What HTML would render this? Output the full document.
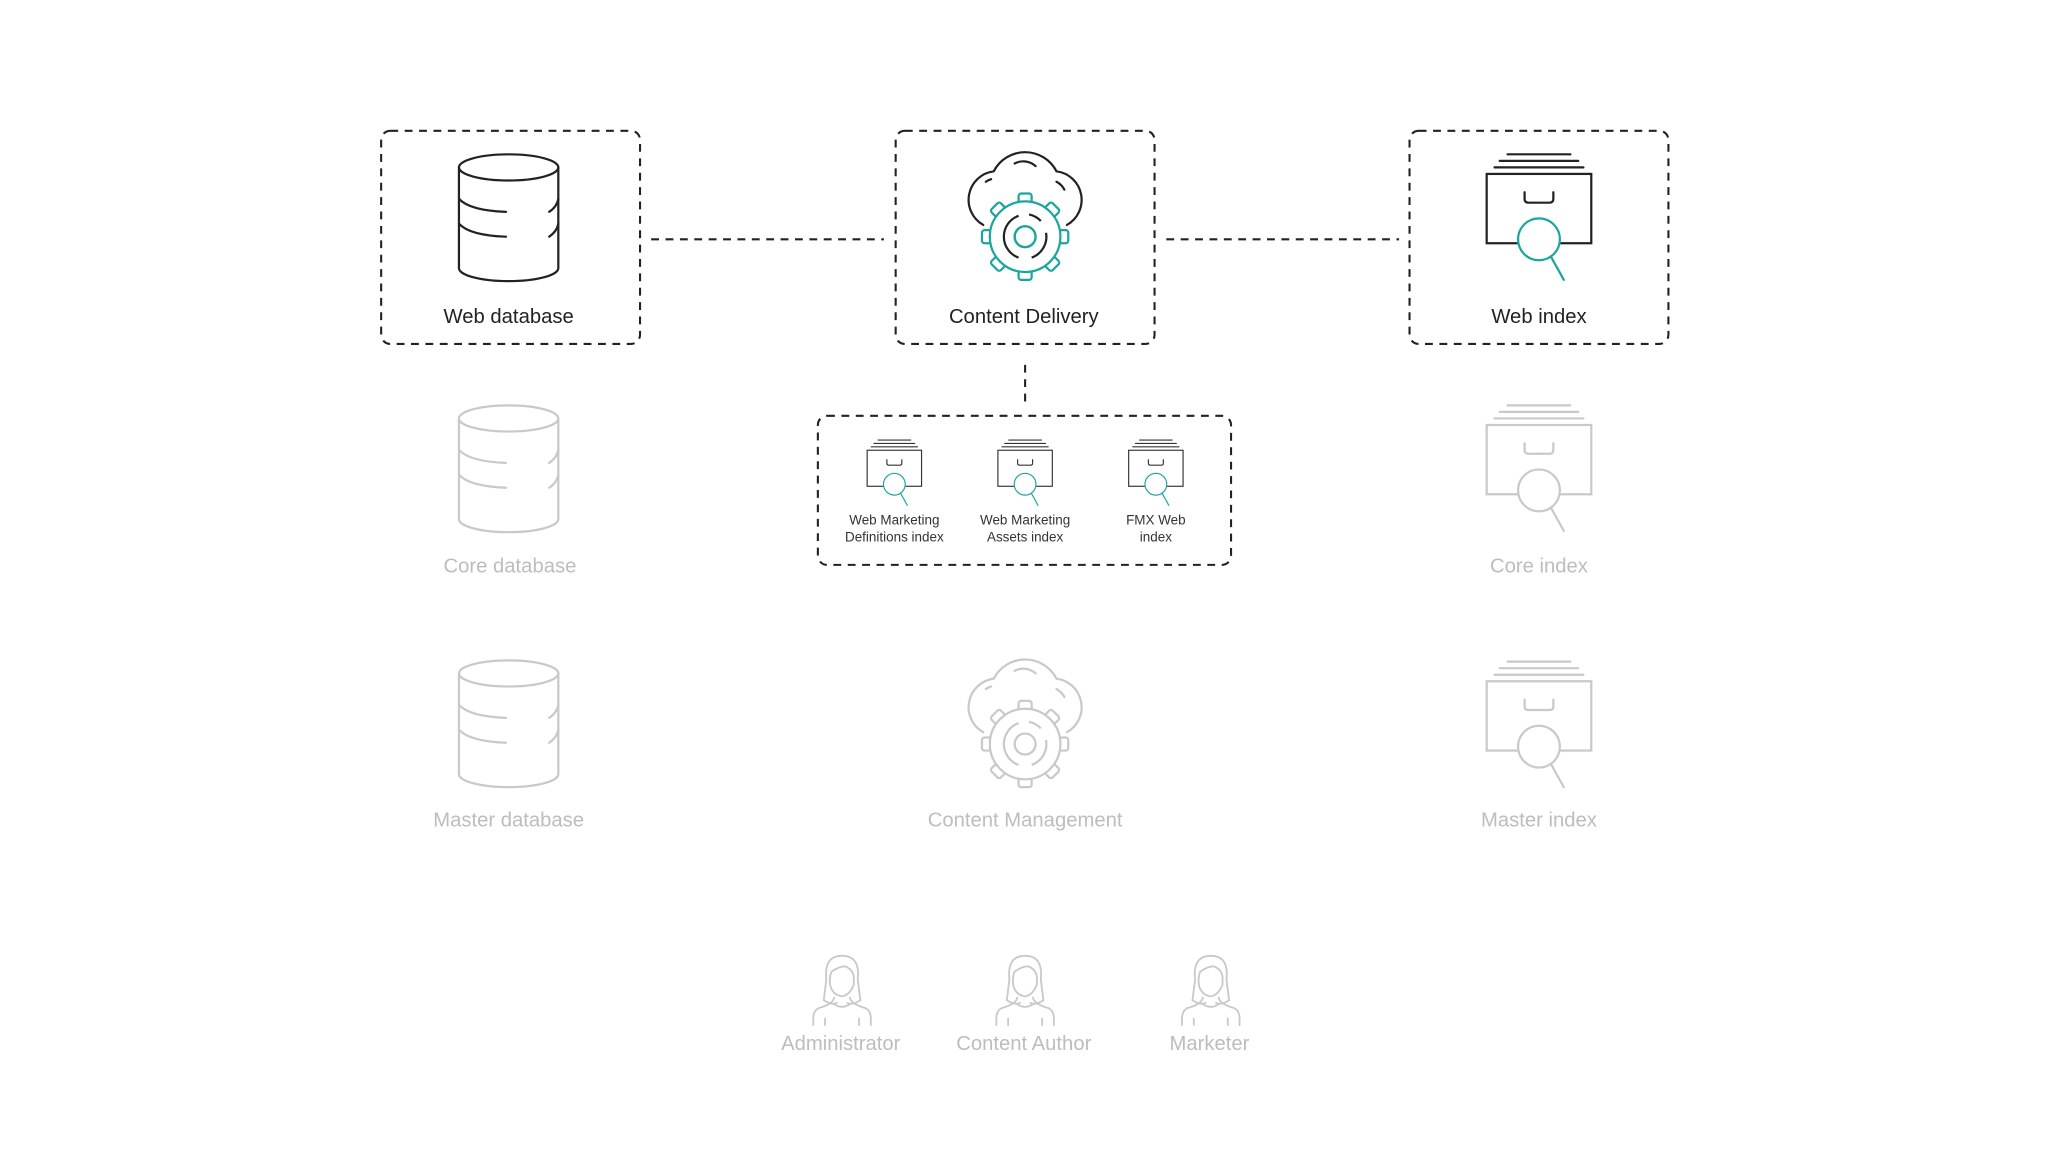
<!DOCTYPE html>
<html><head><meta charset="utf-8"><style>
html,body{margin:0;padding:0;background:#fff;width:2048px;height:1152px;overflow:hidden}
svg{display:block}
text{font-family:"Liberation Sans",sans-serif;text-anchor:middle}
</style></head><body>
<svg width="2048" height="1152" viewBox="0 0 1566.3 881" xmlns="http://www.w3.org/2000/svg">
<defs>
<g id="db" fill="none" stroke-width="1.7" stroke-linecap="round">
<ellipse cx="0" cy="10" rx="38" ry="10"/>
<path d="M-38 10 V87 A38 10 0 0 0 38 87 V10"/>
<path d="M-38 34 Q-30 43 -2 44"/><path d="M38 34 Q37 40 31 44"/>
<path d="M-38 53 Q-30 62 -2 63"/><path d="M38 53 Q37 59 31 63"/>
</g>
<g id="idx" fill="none" stroke-width="1.7" stroke-linecap="round">
<path d="M-24 1 H24 M-30 6 H30 M-34 11 H34"/>
<rect x="-40" y="16" width="80" height="53" fill="#fff"/>
<path d="M-11 30 v5 q0 3 3 3 h16 q3 0 3-3 v-5"/>
</g>
<g id="mag" fill="#fff" stroke-width="1.7" stroke-linecap="round">
<circle cx="0" cy="66" r="16"/><path d="M9 79 L19 97"/>
</g>
<g id="cloud" fill="none" stroke-width="1.7" stroke-linecap="round">
<path d="M-32 55 A22 22 0 0 1 -24 14 A27 27 0 0 1 24 14 A22 22 0 0 1 32 55"/>
<path d="M-30 22 A14 14 0 0 1 -26 20 M-8 8 A14 14 0 0 1 8 10 M24 22 A14 14 0 0 1 30 28"/>
</g>
<g id="gear" stroke-width="1.7">
<g fill="#fff">
<rect x="-5" y="-33" width="10" height="9" rx="2"/>
<rect x="-5" y="-33" width="10" height="9" rx="2" transform="rotate(45)"/>
<rect x="-5" y="-33" width="10" height="9" rx="2" transform="rotate(90)"/>
<rect x="-5" y="-33" width="10" height="9" rx="2" transform="rotate(135)"/>
<rect x="-5" y="-33" width="10" height="9" rx="2" transform="rotate(180)"/>
<rect x="-5" y="-33" width="10" height="9" rx="2" transform="rotate(225)"/>
<rect x="-5" y="-33" width="10" height="9" rx="2" transform="rotate(270)"/>
<rect x="-5" y="-33" width="10" height="9" rx="2" transform="rotate(315)"/>
<circle r="27"/>
</g>
<circle r="8" fill="none"/>
</g>
<g id="person" fill="none" stroke-width="1.4" stroke-linecap="round">
<path d="M-12 14 Q-14 -4 0 -4 Q14 -4 12 14 L14 30 Q8 34 4 32 M-12 14 L-14 30 Q-8 34 -4 32"/>
<path d="M-8 8 Q-2 4 2 4 Q8 6 9 12 V18 Q6 26 0 27 Q-7 26 -9 19 Q-10 12 -8 8"/>
<path d="M-6 28 Q-7 33 -18 36 Q-22 38 -22 44 V49 M6 28 Q7 33 18 36 Q22 38 22 44 V49 M-6 33 Q0 37 6 33 M-13 44 V49 M13 44 V49"/>
</g>
</defs>

<g fill="none" stroke="#222" stroke-width="1.6" stroke-dasharray="6 5">
<rect x="291.5" y="100" width="198" height="163" rx="7"/>
<rect x="685" y="100" width="198" height="163" rx="7"/>
<rect x="1078" y="100" width="198" height="163" rx="7"/>
<rect x="625.5" y="318" width="316" height="114" rx="7"/>
<path d="M498 183 H676 M892 183 H1070 M784 279 V308"/>
</g>

<use href="#db" x="389" y="118" stroke="#222"/>
<text x="389" y="247" font-size="15.5" fill="#222">Web database</text>
<use href="#cloud" x="784" y="117" stroke="#222"/>
<g transform="translate(784 181)">
<use href="#gear" stroke="#1aa5a0"/>
<path d="M-5 -16 A17 17 0 0 0 -5 16 M5 16 A17 17 0 0 0 16 -3 M12 -12 A17 17 0 0 0 3 -17" fill="none" stroke="#222" stroke-width="1.7"/>
<circle r="8" fill="none" stroke="#1aa5a0" stroke-width="1.7"/>
</g>
<text x="783" y="247" font-size="15.5" fill="#222">Content Delivery</text>
<use href="#idx" x="1177" y="117" stroke="#222"/>
<use href="#mag" x="1177" y="117" stroke="#1aa5a0"/>
<text x="1177" y="247" font-size="15.5" fill="#222">Web index</text>

<g transform="translate(684 336) scale(0.52)"><use href="#idx" stroke="#333"/><use href="#mag" stroke="#1aa5a0"/></g>
<g transform="translate(784 336) scale(0.52)"><use href="#idx" stroke="#333"/><use href="#mag" stroke="#1aa5a0"/></g>
<g transform="translate(884 336) scale(0.52)"><use href="#idx" stroke="#333"/><use href="#mag" stroke="#1aa5a0"/></g>
<g font-size="10.3" fill="#333">
<text x="684" y="401">Web Marketing</text><text x="684" y="414">Definitions index</text>
<text x="784" y="401">Web Marketing</text><text x="784" y="414">Assets index</text>
<text x="884" y="401">FMX Web</text><text x="884" y="414">index</text>
</g>

<g stroke="#c9c9c9">
<use href="#db" x="389" y="310"/>
<use href="#db" x="389" y="505"/>
<use href="#idx" x="1177" y="309"/><use href="#mag" x="1177" y="309"/>
<use href="#idx" x="1177" y="505"/><use href="#mag" x="1177" y="505"/>
<use href="#cloud" x="784" y="505"/>
<g transform="translate(784 569)"><use href="#gear"/>
<path d="M-5 -16 A17 17 0 0 0 -5 16 M5 16 A17 17 0 0 0 16 -3 M12 -12 A17 17 0 0 0 3 -17" fill="none" stroke-width="1.7"/></g>
<use href="#person" x="644" y="735"/>
<use href="#person" x="784" y="735"/>
<use href="#person" x="926" y="735"/>
</g>
<g font-size="15.5" fill="#bdbdbd">
<text x="390" y="438">Core database</text>
<text x="1177" y="438">Core index</text>
<text x="389" y="632">Master database</text>
<text x="784" y="632">Content Management</text>
<text x="1177" y="632">Master index</text>
<text x="643" y="803">Administrator</text>
<text x="783" y="803">Content Author</text>
<text x="925" y="803">Marketer</text>
</g>
</svg>
</body></html>
